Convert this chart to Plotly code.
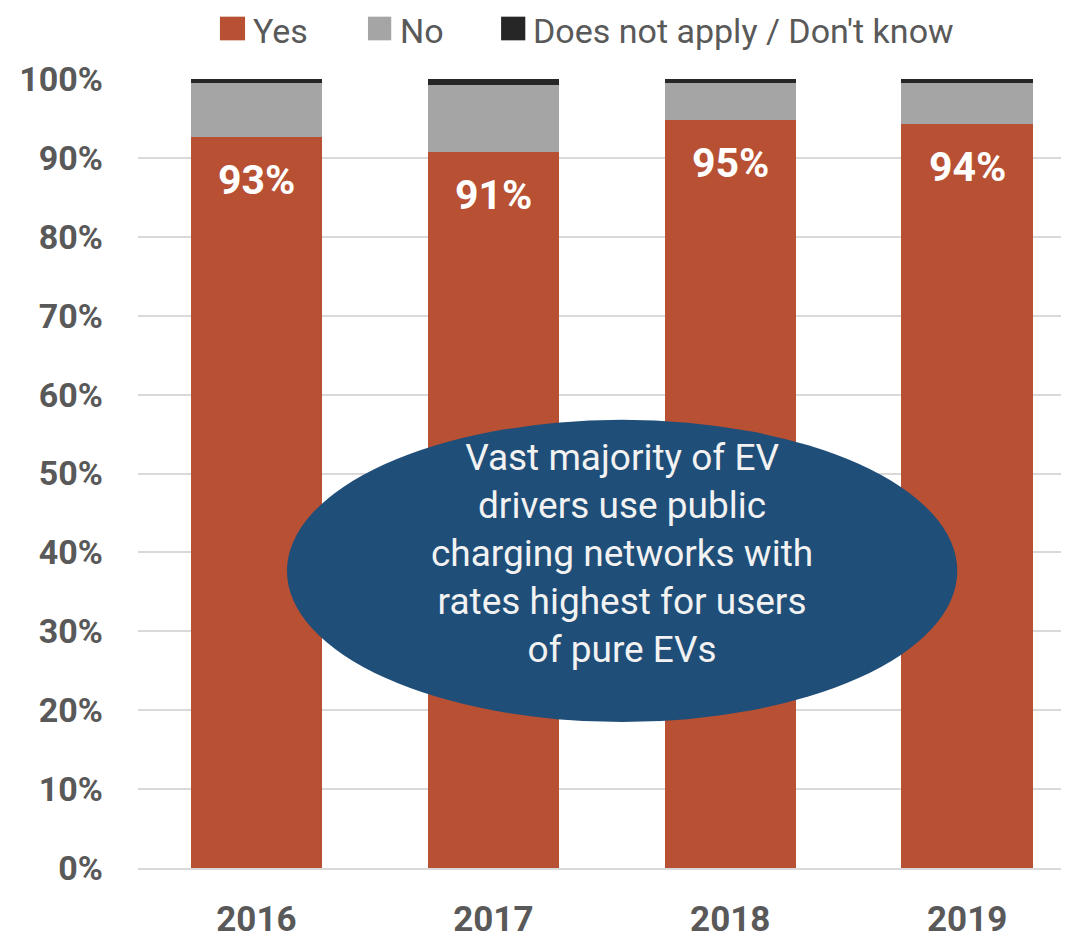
import plotly.graph_objects as go

years = ["2016", "2017", "2018", "2019"]
yes_vals = [92.7, 90.7, 94.8, 94.3]
no_vals = [6.8, 8.5, 4.7, 5.2]
dnk_vals = [0.5, 0.8, 0.5, 0.5]
yes_labels = ["93%", "91%", "95%", "94%"]
series_names = ["Yes", "No", "Does not apply / Don't know"]
series_colors = ["#B85033", "#A5A5A5", "#262626"]
y_ticks = list(range(0, 101, 10))
y_ticktext = [f"{v}%" for v in y_ticks]
callout = "Vast majority of EV<br>drivers use public<br>charging networks with<br>rates highest for users<br>of pure EVs"

TEXT = "#595959"
FONT = "Roboto"

fig = go.Figure()
for name, vals, col in zip(series_names, [yes_vals, no_vals, dnk_vals], series_colors):
    fig.add_trace(go.Bar(x=years, y=vals, name=name, marker_color=col,
                         marker_line_width=0, width=0.555, showlegend=False))

# bar value labels (x given as category index)
for i, (v, lab) in enumerate(zip(yes_vals, yes_labels)):
    fig.add_annotation(x=i, y=v, xref="x", yref="y", text=lab, showarrow=False,
                       yanchor="middle", yshift=-43,
                       font=dict(family=FONT, size=41, color="white", weight="bold"))

# manual legend
leg_sq = [(0.088, 0.115), (0.247, 0.272), (0.390, 0.416)]
leg_tx = [0.1215, 0.279, 0.422]
for i, (name, col) in enumerate(zip(series_names, series_colors)):
    fig.add_shape(type="rect", xref="paper", yref="paper", x0=leg_sq[i][0], x1=leg_sq[i][1],
                  y0=1.049, y1=1.079, fillcolor=col, line_width=0)
    fig.add_annotation(xref="paper", yref="paper", x=leg_tx[i], y=1.0885, text=name,
                       showarrow=False, xanchor="left", yanchor="top",
                       font=dict(family=FONT, size=34, color=TEXT))

# callout ellipse
fig.add_shape(type="circle", xref="paper", yref="paper", x0=0.160, x1=0.880,
              y0=0.185, y1=0.568, fillcolor="#1F4E79", line_width=0, layer="above")
fig.add_annotation(xref="paper", yref="paper", x=0.52, y=0.399, text=callout,
                   showarrow=False, xanchor="center", yanchor="middle", align="center",
                   font=dict(family=FONT, size=37, color="#F2F2F2"))

fig.update_layout(
    barmode="stack",
    width=1061, height=934,
    margin=dict(l=130, r=0, t=71, b=74, autoexpand=False),
    plot_bgcolor="white", paper_bgcolor="white",
    font=dict(family=FONT, color=TEXT),
    showlegend=False,
)
fig.update_xaxes(type="category", range=[-0.5, 3.43], showgrid=False, showline=True,
                 linecolor="#D9D9D9", linewidth=2, ticks="", ticklabelstandoff=19,
                 automargin=False,
                 tickfont=dict(family=FONT, size=35, color=TEXT, weight="bold"))
fig.update_yaxes(range=[0, 100], tickmode="array", tickvals=y_ticks, ticktext=y_ticktext,
                 showgrid=True, gridcolor="#D9D9D9", gridwidth=2, zeroline=False,
                 showline=False, ticks="", ticklabelstandoff=34, automargin=False,
                 tickfont=dict(family=FONT, size=34, color=TEXT, weight="bold"))

fig.write_html("out.html")
